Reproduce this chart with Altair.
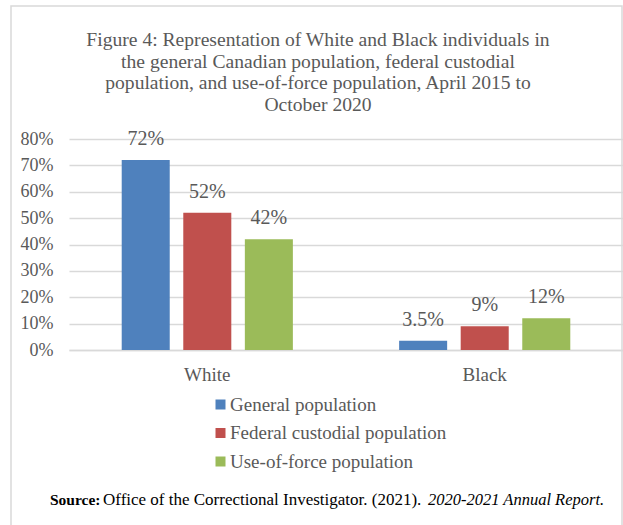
import altair as alt
import pandas as pd

categories = ["White", "Black"]
series = ["General population", "Federal custodial population", "Use-of-force population"]
general = [72, 3.5]
custodial = [52, 9]
use_of_force = [42, 12]
labels_general = ["72%", "3.5%"]
labels_custodial = ["52%", "9%"]
labels_force = ["42%", "12%"]
y_ticks = [0, 10, 20, 30, 40, 50, 60, 70, 80]
colors = ["#4F81BD", "#C0504D", "#9BBB59"]

title_lines = [
    "Figure 4: Representation of White and Black individuals in",
    "the general Canadian population, federal custodial",
    "population, and use-of-force population, April 2015 to",
    "October 2020",
]

rows = []
for s, vals, labs in zip(series, [general, custodial, use_of_force],
                         [labels_general, labels_custodial, labels_force]):
    for c, v, l in zip(categories, vals, labs):
        rows.append({"category": c, "series": s, "value": v, "label": l})
df = pd.DataFrame(rows)

FONT = "Liberation Serif"
GRAY = "#595959"

x_scale = alt.Scale(paddingInner=0.383, paddingOuter=0.19)
y_scale = alt.Scale(domain=[0, 80], nice=False, zero=True)

x_enc = alt.X("category:N", sort=categories, title=None, scale=x_scale,
              axis=alt.Axis(labelAngle=0, labelFontSize=19, labelColor=GRAY, labelFont=FONT,
                            ticks=False, domainColor="#D9D9D9", domainWidth=1.5,
                            labelPadding=15))
xoff = alt.XOffset("series:N", sort=series,
                   scale=alt.Scale(paddingInner=0.22, paddingOuter=0))
y_enc = alt.Y("value:Q", title=None, scale=y_scale,
              axis=alt.Axis(values=y_ticks, labelExpr="datum.value + '%'",
                            labelFontSize=18, labelColor=GRAY, labelFont=FONT,
                            labelOverlap=False, labelBound=False,
                            ticks=False, domain=False, gridColor="#D9D9D9", gridWidth=1.5,
                            labelPadding=16))

bars = alt.Chart(df).mark_bar().encode(
    x=x_enc, xOffset=xoff, y=y_enc,
    color=alt.Color("series:N", sort=series,
                    scale=alt.Scale(domain=series, range=colors),
                    legend=alt.Legend(title=None, orient="none", legendX=142, legendY=256,
                                      symbolType="square", symbolSize=100, symbolStrokeWidth=0,
                                      labelFontSize=19, labelColor=GRAY, labelFont=FONT,
                                      labelLimit=0, labelOffset=0, rowPadding=8.5, padding=0)),
)

texts = alt.Chart(df).mark_text(font=FONT, fontSize=20, color=GRAY, dy=-15,
                                baseline="alphabetic").encode(
    x=alt.X("category:N", sort=categories, scale=x_scale, axis=None),
    xOffset=xoff,
    y=alt.Y("value:Q", scale=y_scale, axis=None),
    text="label:N",
)

ann = alt.Data(values=[{"t": 1}])
border = alt.Chart(ann).mark_rect(fill=None, stroke="#D9D9D9", strokeWidth=1.5).encode(
    x=alt.value(-58), x2=alt.value(553), y=alt.value(-133), y2=alt.value(400))

title = alt.Chart(ann).mark_text(font=FONT, fontSize=19.6, color=GRAY, lineHeight=21.7,
                                 baseline="middle", align="center").encode(
    x=alt.value(249), y=alt.value(-99), text=alt.value(title_lines))

src_bold = alt.Chart(ann).mark_text(font=FONT, fontSize=15.5, fontWeight="bold", color="black",
                                    align="left", baseline="middle").encode(
    x=alt.value(-19), y=alt.value(361), text=alt.value("Source:"))
src_norm = alt.Chart(ann).mark_text(font=FONT, fontSize=17, color="black",
                                    align="left", baseline="middle").encode(
    x=alt.value(34), y=alt.value(361), text=alt.value("Office of the Correctional Investigator. (2021)."))
src_it = alt.Chart(ann).mark_text(font=FONT, fontSize=16.5, fontStyle="italic", color="black",
                                  align="left", baseline="middle").encode(
    x=alt.value(359), y=alt.value(361), text=alt.value("2020-2021 Annual Report."))

chart = alt.layer(bars, texts, border, title, src_bold, src_norm, src_it).resolve_axis(
    x="independent", y="independent"
).properties(
    width=554, height=211,
    autosize=alt.AutoSizeParams(type="none"),
    padding={"left": 69, "top": 139, "right": 0, "bottom": 175},
    background="white",
).configure_view(stroke=None)

chart.save("out.html", embed_options={"renderer": "svg", "actions": False})
